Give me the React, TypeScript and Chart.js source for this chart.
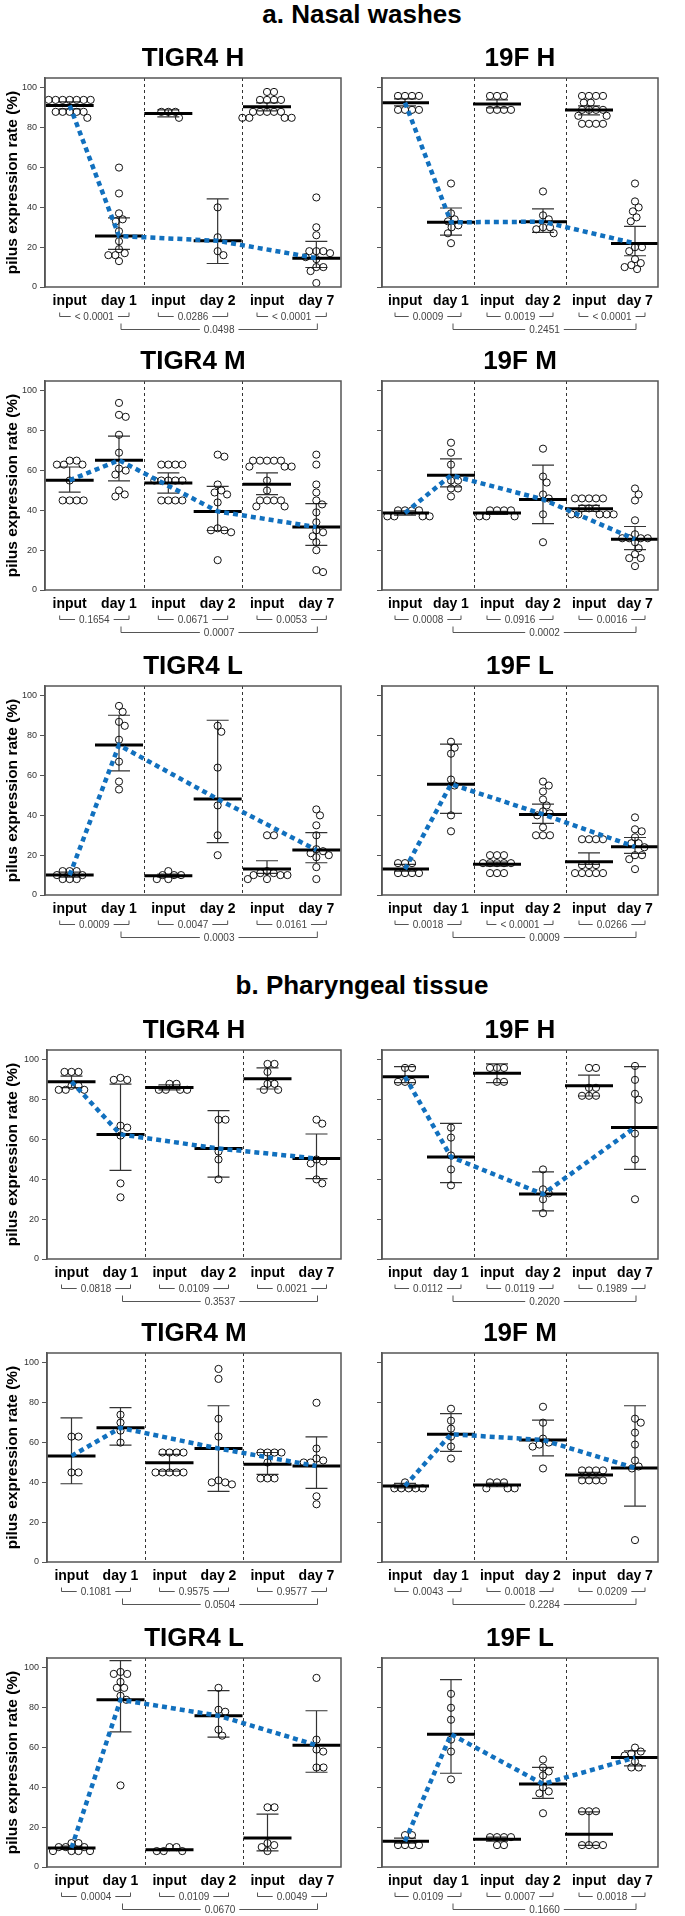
import React, { useEffect, useRef } from "react";
import { Chart, registerables } from "chart.js";

Chart.register(...registerables);

const FONT = '"Liberation Sans", Arial, Helvetica, sans-serif';
const BLUE = "#1170be";

// ---------- shared text ----------
const xLabels = ["input", "day 1", "input", "day 2", "input", "day 7"];
const yTickValues = [0, 20, 40, 60, 80, 100];
const yAxisTitle = "pilus expression rate (%)";
const sectionTitles = ["a. Nasal washes", "b. Pharyngeal tissue"];
const panelTitles = ["TIGR4 H", "19F H", "TIGR4 M", "19F M", "TIGR4 L", "19F L"];

// ---------- a. Nasal washes ----------
const nasalT4HValues = [
  [94, 94, 94, 94, 94, 94, 94, 88, 88, 88, 88, 88, 85],
  [60, 47, 37, 34, 33, 28, 23, 19, 17, 16, 16, 13],
  [88, 88, 88, 85],
  [40, 25, 18, 16],
  [98, 98, 94, 94, 94, 94, 88, 88, 88, 88, 88, 85, 85, 85, 85],
  [45, 30, 26, 18, 18, 18, 17, 15, 14, 10, 10, 8, 2],
];
const nasalT4HMeans = [91.2, 25.6, 87.2, 23.2, 90.6, 14.5];
const nasalT4HLow = [89.5, 18.9, 85.5, 11.8, 88.5, 9.8];
const nasalT4HHigh = [93, 34.7, 89, 44.3, 92.5, 22.9];
const nasalT4HP = ["< 0.0001", "0.0286", "< 0.0001", "0.0498"];

const nasal19FHValues = [
  [96, 96, 96, 96, 89, 89, 89, 89],
  [52, 37, 34, 33, 31, 30, 27, 22],
  [96, 96, 96, 89, 89, 89, 89],
  [48, 36, 34, 30, 30, 29, 27],
  [96, 96, 96, 96, 92.6, 92.6, 89, 89, 89, 89, 86, 86, 82, 82, 82, 82],
  [52, 43, 40, 38, 35, 33, 20, 20, 18, 14, 12, 11, 10, 9],
];
const nasal19FHMeans = [92.6, 32.5, 91.9, 32.8, 88.9, 21.9];
const nasal19FHLow = [91, 26.1, 90, 27.4, 86.5, 15.7];
const nasal19FHHigh = [94.5, 39.7, 94, 39.2, 91, 30.5];
const nasal19FHP = ["0.0009", "0.0019", "< 0.0001", "0.2451"];

const nasalT4MValues = [
  [65, 65, 63, 63, 63, 55, 45, 45, 45, 45],
  [94, 88, 87, 78, 69, 61, 60, 58, 50, 48, 47],
  [63, 63, 63, 63, 55, 55, 55, 55, 55, 45, 45, 45, 45],
  [68, 67, 53, 50, 49, 48, 44, 31, 30, 30, 29, 15],
  [65, 65, 65, 65, 65, 62, 62, 62, 55, 50, 45, 45, 45, 45, 42, 42],
  [68, 63, 53, 49, 45, 43, 39, 34, 30, 29, 27, 24, 20, 10, 9],
];
const nasalT4MMeans = [55.1, 65.2, 53.8, 39.5, 53.1, 31.6];
const nasalT4MLow = [49.2, 54.8, 48.7, 29.9, 47.9, 22.4];
const nasalT4MHigh = [61.8, 77.3, 58.8, 52.1, 58.8, 43.4];
const nasalT4MP = ["0.1654", "0.0671", "0.0053", "0.0007"];

const nasal19FMValues = [
  [40, 40, 40, 40, 37, 37, 37, 37],
  [74, 69, 63, 55, 55, 51, 51, 47],
  [40, 40, 40, 40, 37, 37, 37],
  [71, 57, 54, 48, 46, 38, 24],
  [46, 46, 46, 46, 46, 41, 41, 41, 38, 38, 38, 38, 38],
  [51, 48, 45, 35, 28, 26, 26, 26, 26, 24, 21, 18, 16, 16, 12],
];
const nasal19FMMeans = [38.7, 57.6, 38.7, 45.5, 40.8, 25.5];
const nasal19FMLow = [37.6, 51.8, 38, 33.3, 39.5, 20.3];
const nasal19FMHigh = [39.8, 65.9, 39.5, 62.7, 42.5, 31.9];
const nasal19FMP = ["0.0008", "0.0916", "0.0016", "0.0002"];

const nasalT4LValues = [
  [12, 12, 12, 10, 10, 8, 8, 8],
  [95, 92, 87, 85, 78, 67, 57, 53],
  [12, 10, 10, 10, 8, 8],
  [85, 82, 64, 45, 30, 20],
  [30, 30, 12, 11, 11, 10, 10, 10, 8, 8],
  [43, 40, 35, 30, 23, 22, 21, 20, 19, 14, 8],
];
const nasalT4LMeans = [10, 75.3, 9.7, 48.2, 13, 22.6];
const nasalT4LLow = [9, 62.4, 9, 26.3, 10.9, 16.2];
const nasalT4LHigh = [11.5, 90.3, 10.5, 87.8, 17.2, 31.3];
const nasalT4LP = ["0.0009", "0.0047", "0.0161", "0.0003"];

const nasal19FLValues = [
  [16, 16, 16, 11, 11, 11, 11],
  [77, 74, 71, 58, 55, 40, 32],
  [20, 20, 20, 16, 16, 16, 16, 16, 11, 11, 11],
  [57, 55, 52, 48, 45, 42, 41, 40, 34, 30, 30, 30],
  [28, 28, 28, 28, 15, 15, 15, 11, 11, 11, 11, 11],
  [39, 33, 32, 29, 26, 26, 24, 20, 20, 18, 13],
];
const nasal19FLMeans = [13, 55.7, 15.4, 40.5, 16.7, 24.2];
const nasal19FLLow = [12, 41, 14.5, 36, 15.4, 20.9];
const nasal19FLHigh = [15.4, 75.8, 16.5, 45.7, 21.2, 28.9];
const nasal19FLP = ["0.0018", "< 0.0001", "0.0266", "0.0009"];

// ---------- b. Pharyngeal tissue ----------
const pharT4HValues = [
  [94, 94, 94, 87, 87, 85, 85, 85],
  [91, 90, 90, 67, 66, 62, 38, 31],
  [88, 88, 85, 85, 85, 85],
  [70, 70, 54, 50, 40],
  [98, 98, 94, 88, 88, 85, 85],
  [70, 68, 50, 49, 48, 40, 38],
];
const pharT4HMeans = [89.1, 62.6, 86.1, 55.5, 90.6, 50.5];
const pharT4HLow = [86.1, 44.5, 85, 41.1, 85.4, 40.4];
const pharT4HHigh = [91.9, 87.9, 87.5, 74.5, 96, 62.8];
const pharT4HP = ["0.0818", "0.0109", "0.0021", "0.3537"];

const phar19FHValues = [
  [96, 96, 89, 89, 89],
  [66, 61, 52, 45, 37],
  [96, 96, 96, 89, 89],
  [45, 35, 33, 30, 23],
  [96, 96, 86, 86, 82, 82, 82],
  [97, 90, 83, 80, 63, 50, 30],
];
const phar19FHMeans = [91.6, 51.3, 93.3, 32.6, 87.1, 66.1];
const phar19FHLow = [88.6, 38.4, 88.6, 24.2, 81.9, 45];
const phar19FHHigh = [96.6, 68.1, 98, 43.8, 92.4, 96.6];
const phar19FHP = ["0.0112", "0.0119", "0.1989", "0.2020"];

const pharT4MValues = [
  [63, 63, 45, 45],
  [74, 70, 66, 60],
  [55, 55, 55, 55, 45, 45, 45, 45, 45],
  [97, 92, 72, 63, 41, 40, 40, 39],
  [55, 55, 55, 55, 50, 42, 42, 42],
  [80, 57, 52, 51, 50, 50, 33, 29],
];
const pharT4MMeans = [53.3, 67.4, 49.9, 57, 49.1, 48.2];
const pharT4MLow = [39.3, 58.7, 45.7, 35.5, 44, 37];
const pharT4MHigh = [72.4, 77.6, 54.1, 78.5, 55, 62.9];
const pharT4MP = ["0.1081", "0.9575", "0.9577", "0.0504"];

const phar19FMValues = [
  [40, 37, 37, 37, 37, 37],
  [77, 71, 67, 63, 58, 52],
  [40, 40, 40, 37, 37, 37],
  [78, 70, 62, 60, 59, 58, 47],
  [46, 46, 46, 46, 41, 41, 41, 41],
  [72, 70, 65, 59, 51, 48, 47, 11],
];
const phar19FMMeans = [38.2, 64.2, 38.7, 61.3, 43.7, 47.2];
const phar19FMLow = [37.2, 55.6, 37.8, 53.3, 42.3, 28.1];
const phar19FMHigh = [39.5, 74.5, 39.6, 71.3, 45, 78.5];
const phar19FMP = ["0.0043", "0.0018", "0.0209", "0.2284"];

const pharT4LValues = [
  [12, 12, 10, 10, 10, 8, 8, 8, 8],
  [98, 97, 97, 93, 90, 90, 86, 84, 41],
  [10, 10, 8, 8, 8],
  [90, 79, 78, 69, 66],
  [30, 30, 12, 11, 10, 8],
  [95, 64, 59, 58, 50, 50],
];
const pharT4LMeans = [9.6, 84, 8.7, 76, 14.6, 61.2];
const pharT4LLow = [8.8, 67.9, 8.2, 65.2, 8.1, 47.6];
const pharT4LHigh = [10.5, 103.7, 9.3, 88.6, 26.6, 78.5];
const pharT4LP = ["0.0004", "0.0109", "0.0049", "0.0670"];

const phar19FLValues = [
  [16, 16, 11, 11, 11, 11],
  [87, 80, 74, 64, 58, 44],
  [15, 15, 15, 15, 11, 11],
  [54, 50, 48, 46, 40, 38, 37, 27],
  [28, 28, 28, 11, 11, 11, 11],
  [60, 58, 57, 56, 53, 50, 50],
];
const phar19FLMeans = [12.9, 66.7, 13.9, 41.7, 16.5, 55];
const phar19FLLow = [12, 47.1, 13, 34.5, 10.9, 50.8];
const phar19FLHigh = [14.5, 94.1, 15, 50.1, 27.7, 58.3];
const phar19FLP = ["0.0109", "0.0007", "0.0018", "0.1660"];

interface PanelData {
  title: string;
  values: number[][];
  means: number[];
  low: number[];
  high: number[];
  p: string[];
}

const nasalPanels: PanelData[] = [
  { title: panelTitles[0], values: nasalT4HValues, means: nasalT4HMeans, low: nasalT4HLow, high: nasalT4HHigh, p: nasalT4HP },
  { title: panelTitles[1], values: nasal19FHValues, means: nasal19FHMeans, low: nasal19FHLow, high: nasal19FHHigh, p: nasal19FHP },
  { title: panelTitles[2], values: nasalT4MValues, means: nasalT4MMeans, low: nasalT4MLow, high: nasalT4MHigh, p: nasalT4MP },
  { title: panelTitles[3], values: nasal19FMValues, means: nasal19FMMeans, low: nasal19FMLow, high: nasal19FMHigh, p: nasal19FMP },
  { title: panelTitles[4], values: nasalT4LValues, means: nasalT4LMeans, low: nasalT4LLow, high: nasalT4LHigh, p: nasalT4LP },
  { title: panelTitles[5], values: nasal19FLValues, means: nasal19FLMeans, low: nasal19FLLow, high: nasal19FLHigh, p: nasal19FLP },
];
const pharPanels: PanelData[] = [
  { title: panelTitles[0], values: pharT4HValues, means: pharT4HMeans, low: pharT4HLow, high: pharT4HHigh, p: pharT4HP },
  { title: panelTitles[1], values: phar19FHValues, means: phar19FHMeans, low: phar19FHLow, high: phar19FHHigh, p: phar19FHP },
  { title: panelTitles[2], values: pharT4MValues, means: pharT4MMeans, low: pharT4MLow, high: pharT4MHigh, p: pharT4MP },
  { title: panelTitles[3], values: phar19FMValues, means: phar19FMMeans, low: phar19FMLow, high: phar19FMHigh, p: phar19FMP },
  { title: panelTitles[4], values: pharT4LValues, means: pharT4LMeans, low: pharT4LLow, high: pharT4LHigh, p: pharT4LP },
  { title: panelTitles[5], values: phar19FLValues, means: phar19FLMeans, low: phar19FLLow, high: phar19FLHigh, p: phar19FLP },
];

// ---------- layout ----------
const GEOM = [
  { titleTop: -1, plotTops: [78, 381, 686], left: [45, 359], right: [366, 679] },
  { titleTop: 970, plotTops: [1050, 1353, 1658], left: [47, 361], right: [367, 681] },
];
const TITLE_SPACE = 40;
const PLOT_H = 209;
const AXIS_H = 50;
const CANVAS_H = TITLE_SPACE + PLOT_H + AXIS_H;
const LEFT_CANVAS = { x: 0, w: 368 };
const RIGHT_CANVAS = { x: 355, w: 330 };

const SWARM_D = 7;

const decorPlugin = {
  id: "decor",
  afterDatasetsUpdate(chart: any) {
    const ds = chart.data.datasets[2];
    const meta = chart.getDatasetMeta(2);
    const groups = new Map<number, any[]>();
    meta.data.forEach((el: any, i: number) => {
      const g = ds.data[i].x;
      if (!groups.has(g)) groups.set(g, []);
      groups.get(g)!.push(el);
    });
    const D = SWARM_D;
    groups.forEach((els) => {
      const sorted = [...els].sort((a, b) => a.y - b.y);
      const placed: { x: number; y: number }[] = [];
      for (const el of sorted) {
        const cands = [0];
        for (const p of placed) {
          const dy = Math.abs(el.y - p.y);
          if (dy < D) {
            const dx = Math.sqrt(D * D - dy * dy);
            cands.push(p.x + dx, p.x - dx);
          }
        }
        let best = Infinity;
        for (const c of cands) {
          if (Math.abs(c) >= Math.abs(best)) continue;
          if (placed.every((p) => (c - p.x) ** 2 + (el.y - p.y) ** 2 >= D * D - 0.01)) best = c;
        }
        if (!isFinite(best)) best = 0;
        placed.push({ x: best, y: el.y });
        el.x += best;
      }
    });
  },
  beforeDatasetsDraw(chart: any, _args: any, opts: any) {
    const { ctx, chartArea: ca } = chart;
    const xs = chart.scales.x;
    const ys = chart.scales.y;
    ctx.save();
    ctx.strokeStyle = "#333";
    ctx.lineWidth = 1;
    ctx.setLineDash([3, 3]);
    [1.5, 3.5].forEach((v) => {
      const x = Math.round(xs.getPixelForValue(v)) + 0.5;
      ctx.beginPath();
      ctx.moveTo(x, ca.top);
      ctx.lineTo(x, ca.bottom);
      ctx.stroke();
    });
    ctx.setLineDash([]);
    ctx.strokeStyle = "#333";
    ctx.lineWidth = 1.2;
    opts.low.forEach((lo: number, i: number) => {
      const x = xs.getPixelForValue(i);
      const y1 = ys.getPixelForValue(lo);
      const y2 = ys.getPixelForValue(opts.high[i]);
      ctx.beginPath();
      ctx.moveTo(x, y1);
      ctx.lineTo(x, y2);
      ctx.moveTo(x - 11, y1);
      ctx.lineTo(x + 11, y1);
      ctx.moveTo(x - 11, y2);
      ctx.lineTo(x + 11, y2);
      ctx.stroke();
    });
    ctx.restore();
  },
  afterDraw(chart: any, _args: any, opts: any) {
    const { ctx, chartArea: ca } = chart;
    const xs = chart.scales.x;
    ctx.save();
    ctx.strokeStyle = "#555";
    ctx.lineWidth = 1.5;
    ctx.strokeRect(ca.left, ca.top, ca.right - ca.left, ca.bottom - ca.top);

    ctx.font = `10px ${FONT}`;
    ctx.fillStyle = "#444";
    ctx.strokeStyle = "#555";
    ctx.lineWidth = 1;
    ctx.textAlign = "center";
    ctx.textBaseline = "middle";
    const bracket = (x1: number, x2: number, y: number, tick: number, text: string) => {
      const mid = (x1 + x2) / 2;
      const tw = ctx.measureText(text).width;
      const gap = 4;
      ctx.beginPath();
      ctx.moveTo(x1, y - tick);
      ctx.lineTo(x1, y);
      ctx.lineTo(mid - tw / 2 - gap, y);
      ctx.moveTo(mid + tw / 2 + gap, y);
      ctx.lineTo(x2, y);
      ctx.lineTo(x2, y - tick);
      ctx.stroke();
      ctx.fillText(text, mid, y + 0.5);
    };
    const y1 = Math.round(ca.bottom + 29) + 0.5;
    const y2 = Math.round(ca.bottom + 42) + 0.5;
    for (let k = 0; k < 3; k++) {
      bracket(xs.getPixelForValue(2 * k) - 10, xs.getPixelForValue(2 * k + 1) + 10, y1, 4, opts.p[k]);
    }
    bracket(xs.getPixelForValue(1) + 2, xs.getPixelForValue(5) + 1, y2, 6, opts.p[3]);
    ctx.restore();
  },
};

function PanelChart({ data, section, row, col }: { data: PanelData; section: number; row: number; col: number }) {
  const ref = useRef<HTMLCanvasElement>(null);
  const isLeft = col === 0;
  const g = GEOM[section];
  const plotTop = g.plotTops[row];
  const [plotL, plotR] = isLeft ? g.left : g.right;
  const cv = isLeft ? LEFT_CANVAS : RIGHT_CANVAS;
  const top = plotTop - TITLE_SPACE;
  const yAxisW = plotL - cv.x;
  const padRight = cv.x + cv.w - plotR;

  useEffect(() => {
    if (!ref.current) return;
    const chart = new Chart(ref.current, {
      type: "scatter",
      data: {
        datasets: [
          {
            type: "line",
            data: [0, 1, 3, 5].map((i) => ({ x: i, y: data.means[i] })),
            borderColor: BLUE,
            borderWidth: 4.5,
            borderDash: [5, 4],
            pointRadius: 0,
            fill: false,
            tension: 0,
            order: 0,
          },
          {
            type: "scatter",
            data: data.means.map((m, i) => ({ x: i, y: m })),
            pointStyle: "line",
            pointRadius: 24,
            pointBorderWidth: 3,
            pointBorderColor: "#000",
            order: 1,
          },
          {
            type: "scatter",
            data: data.values.flatMap((vals, i) => vals.map((v) => ({ x: i, y: v }))),
            pointStyle: "circle",
            pointRadius: 3.6,
            pointBorderWidth: 1,
            pointBorderColor: "#111",
            pointBackgroundColor: "rgba(255,255,255,0)",
            order: 2,
          },
        ],
      } as any,
      options: {
        responsive: false,
        animation: false,
        devicePixelRatio: 1,
        events: [],
        layout: { padding: { left: 0, right: padRight, top: 0, bottom: 0 } },
        plugins: {
          legend: { display: false },
          tooltip: { enabled: false },
          title: {
            display: true,
            text: data.title,
            fullSize: false,
            color: "#000",
            font: { family: FONT, size: 26, weight: "bold", lineHeight: 1.2 },
            padding: { top: 5, bottom: 3.8 },
          },
          decor: { low: data.low, high: data.high, p: data.p },
        } as any,
        scales: {
          x: {
            type: "linear",
            min: -0.5,
            max: 5.5,
            position: "bottom",
            grid: { display: false, drawTicks: false },
            border: { display: false },
            ticks: {
              autoSkip: false,
              maxRotation: 0,
              padding: 6,
              color: "#000",
              font: { family: FONT, size: 14, weight: "bold" },
              callback: (v: any) => xLabels[Number(v)] ?? "",
            },
            afterBuildTicks: (s: any) => {
              s.ticks = xLabels.map((_, i) => ({ value: i }));
            },
            afterFit: (s: any) => {
              s.height = AXIS_H;
            },
          },
          y: {
            type: "linear",
            min: 0,
            max: 105,
            position: "left",
            grid: { display: true, drawOnChartArea: false, drawTicks: true, tickLength: 5, color: "#555", lineWidth: 1 },
            border: { display: true, color: "#555", width: 1.5 },
            ticks: {
              padding: 3,
              color: "#333",
              font: { family: FONT, size: 9 },
              callback: (v: any) => (isLeft ? String(v) : ""),
            },
            title: {
              display: isLeft,
              text: yAxisTitle,
              color: "#000",
              font: { family: FONT, size: 15.5, weight: "bold" },
              padding: { top: 3, bottom: 0 },
            },
            afterBuildTicks: (s: any) => {
              s.ticks = yTickValues.map((v) => ({ value: v }));
            },
            afterFit: (s: any) => {
              s.width = yAxisW;
            },
          },
        },
      } as any,
      plugins: [decorPlugin as any],
    });
    return () => chart.destroy();
  }, []);

  return (
    <canvas
      ref={ref}
      width={cv.w}
      height={CANVAS_H}
      style={{ position: "absolute", left: cv.x, top, width: cv.w, height: CANVAS_H }}
    />
  );
}

export default function App() {
  return (
    <div
      style={{
        position: "absolute",
        left: 0,
        top: 0,
        width: 685,
        height: 1916,
        overflow: "hidden",
        background: "#fff",
        fontFamily: FONT,
      }}
    >
      {sectionTitles.map((t, s) => (
        <div
          key={t}
          style={{
            position: "absolute",
            left: 62,
            width: 600,
            top: GEOM[s].titleTop,
            textAlign: "center",
            fontSize: 26,
            fontWeight: "bold",
            lineHeight: "30px",
            color: "#000",
            whiteSpace: "nowrap",
          }}
        >
          {t}
        </div>
      ))}
      {[nasalPanels, pharPanels].map((list, s) =>
        list.map((pd, k) => (
          <PanelChart key={`${s}-${k}`} data={pd} section={s} row={Math.floor(k / 2)} col={k % 2} />
        ))
      )}
    </div>
  );
}
